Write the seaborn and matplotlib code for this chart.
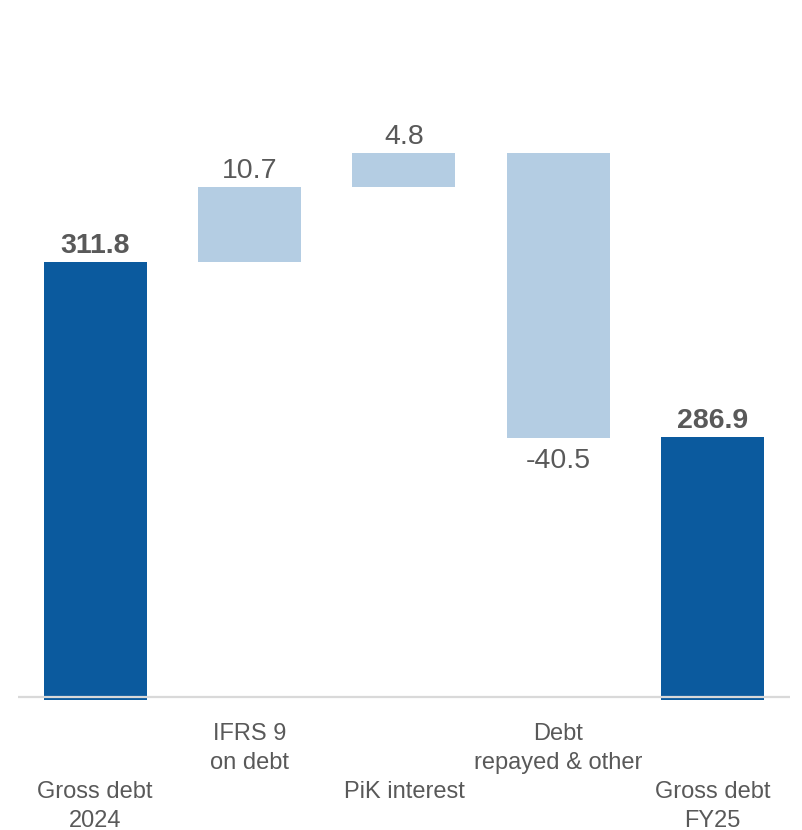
import matplotlib
matplotlib.use("Agg")
import matplotlib.pyplot as plt
import seaborn as sns

# Gross debt bridge, in millions
categories = ["Gross debt\n2024", "IFRS 9\non debt", "PiK interest",
              "Debt\nrepayed & other", "Gross debt\nFY25"]
values = [311.8, 10.7, 4.8, -40.5, 286.9]
is_total = [True, False, False, False, True]
labels = ["311.8", "10.7", "4.8", "-40.5", "286.9"]

dark_blue = "#0B5A9E"
light_blue = "#B4CDE3"
grey_text = "#595959"

sns.set_theme(style="white")
plt.rcParams["font.family"] = ["Liberation Sans", "DejaVu Sans"]

# running bottoms / tops for the waterfall
bottoms, tops = [], []
running = 0.0
for v, tot in zip(values, is_total):
    if tot:
        bottoms.append(0.0)
        tops.append(v)
        running = v
    else:
        lo, hi = sorted([running, running + v])
        bottoms.append(lo)
        tops.append(hi)
        running += v

fig = plt.figure(figsize=(8.03, 8.30), dpi=100)
ax = fig.add_axes([0.0224, 0.1566, 0.9614, 0.8434])

colors = [dark_blue if t else light_blue for t in is_total]
# stagger the category labels like the original slide
tick_labels = [c if i % 2 else "\n\n" + c for i, c in enumerate(categories)]
sns.barplot(x=tick_labels, y=tops, hue=tick_labels, palette=colors,
            legend=False, width=0.667, saturation=1, ax=ax)

# turn the plain bars into floating waterfall segments
for patch, lo, hi in zip(ax.patches, bottoms, tops):
    patch.set_y(lo)
    patch.set_height(hi - lo)
    patch.set_linewidth(0)

ax.set_xlim(-0.5, 4.5)
ax.set_ylim(249.5, 349.1)
ax.axhline(250, color="#D9D9D9", lw=1.6, zorder=5)

for i, (v, lab, tot) in enumerate(zip(values, labels, is_total)):
    if v < 0:
        ax.annotate(lab, (i, bottoms[i]), xytext=(0, -7), textcoords="offset points",
                    ha="center", va="top", fontsize=20.5, color=grey_text)
    else:
        ax.annotate(lab, (i, tops[i]), xytext=(0, 2), textcoords="offset points",
                    ha="center", va="bottom", fontsize=20.5, color=grey_text,
                    fontweight="bold" if tot else "normal")

ax.set_yticks([])
ax.set_xlabel("")
ax.set_ylabel("")
ax.tick_params(axis="x", length=0, pad=16.5, labelsize=17, labelcolor=grey_text)
for lbl in ax.get_xticklabels():
    lbl.set_linespacing(1.41)
sns.despine(ax=ax, left=True, bottom=True)

fig.savefig("out.png", dpi=100)
